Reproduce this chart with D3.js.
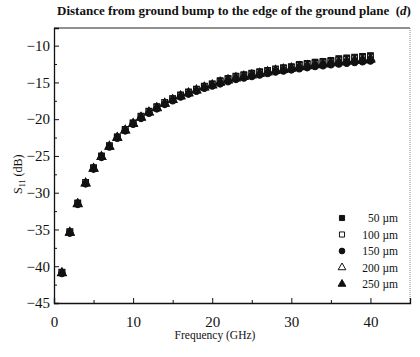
<!DOCTYPE html>
<html>
<head>
<meta charset="utf-8">
<script src="https://cdn.jsdelivr.net/npm/d3@7"></script>
<style>
  body { margin: 0; background: #fff; }
  text { font-family: "Liberation Serif", "DejaVu Serif", serif; fill: #111; }
</style>
</head>
<body>
<script>
const freq = [1,2,3,4,5,6,7,8,9,10,11,12,13,14,15,16,17,18,19,20,
              21,22,23,24,25,26,27,28,29,30,31,32,33,34,35,36,37,38,39,40];

const s50 = [-40.8,-35.3,-31.4,-28.6,-26.6,-25.0,-23.6,-22.4,-21.4,-20.5,
             -19.6,-18.9,-18.3,-17.7,-17.2,-16.7,-16.3,-15.9,-15.5,-15.2,
             -14.75,-14.45,-14.15,-13.95,-13.75,-13.55,-13.35,-13.15,-13.0,-12.85,
             -12.55,-12.4,-12.25,-12.15,-12.0,-11.75,-11.65,-11.55,-11.45,-11.35];
const s100 = [-40.85,-35.35,-31.45,-28.65,-26.65,-25.05,-23.65,-22.45,-21.45,-20.55,
              -19.65,-18.95,-18.35,-17.75,-17.25,-16.75,-16.35,-15.95,-15.55,-15.25,
              -14.85,-14.55,-14.25,-14.05,-13.85,-13.65,-13.45,-13.25,-13.1,-12.95,
              -12.7,-12.55,-12.4,-12.3,-12.15,-11.95,-11.85,-11.75,-11.65,-11.55];
const s150 = [-41.0,-35.5,-31.6,-28.8,-26.8,-25.2,-23.8,-22.6,-21.6,-20.7,
              -19.9,-19.2,-18.6,-18.0,-17.5,-17.0,-16.6,-16.2,-15.8,-15.5,
              -15.2,-14.9,-14.6,-14.4,-14.2,-14.0,-13.8,-13.6,-13.45,-13.3,
              -13.15,-13.0,-12.85,-12.75,-12.6,-12.5,-12.4,-12.3,-12.2,-12.1];
const s200 = [-40.9,-35.4,-31.5,-28.7,-26.7,-25.1,-23.7,-22.5,-21.5,-20.6,
              -19.75,-19.05,-18.45,-17.85,-17.35,-16.85,-16.45,-16.05,-15.65,-15.35,
              -14.95,-14.65,-14.35,-14.15,-13.95,-13.75,-13.55,-13.35,-13.2,-13.05,
              -12.85,-12.7,-12.55,-12.45,-12.3,-12.15,-12.05,-11.95,-11.85,-11.75];
const s250 = [-40.95,-35.45,-31.55,-28.75,-26.75,-25.15,-23.75,-22.55,-21.55,-20.65,
              -19.8,-19.1,-18.5,-17.9,-17.4,-16.9,-16.5,-16.1,-15.7,-15.4,
              -15.05,-14.75,-14.45,-14.25,-14.05,-13.85,-13.65,-13.45,-13.3,-13.15,
              -12.95,-12.8,-12.65,-12.55,-12.4,-12.3,-12.2,-12.1,-12.0,-11.9];

const seriesNames = ["50 \u00b5m", "100 \u00b5m", "150 \u00b5m", "200 \u00b5m", "250 \u00b5m"];
const seriesData = [s50, s100, s150, s200, s250];
const xTicks = [0, 10, 20, 30, 40];
const yTicks = [-10, -15, -20, -25, -30, -35, -40, -45];

const W = 420, H = 357;
const svg = d3.select("body").append("svg")
    .attr("width", W)
    .attr("height", H);

const x = d3.scaleLinear().domain([0, 45]).range([54, 410]);
const y = d3.scaleLinear().domain([-45, -7.6]).range([303, 28]);

// frame: top and right
svg.append("line")
    .attr("x1", x(0)).attr("x2", x(45)).attr("y1", y(-7.6)).attr("y2", y(-7.6))
    .attr("stroke", "#222").attr("stroke-width", 1.2);
svg.append("line")
    .attr("x1", x(45)).attr("x2", x(45)).attr("y1", y(-7.6)).attr("y2", y(-45))
    .attr("stroke", "#888").attr("stroke-width", 1).attr("stroke-dasharray", "1,1");

// bottom axis, ticks pointing inward
const xAxis = svg.append("g")
    .attr("transform", `translate(0,${y(-45)})`)
    .call(d3.axisBottom(x).tickValues(xTicks).tickSize(-5).tickPadding(13));
svg.append("g")
    .attr("transform", `translate(0,${y(-45)})`)
    .call(d3.axisBottom(x).tickValues([5, 15, 25, 35]).tickSize(-3).tickFormat(""))
    .call(g => g.select(".domain").remove());

const yAxis = svg.append("g")
    .attr("transform", `translate(${x(0)},0)`)
    .call(d3.axisLeft(y).tickValues(yTicks).tickSize(-5).tickPadding(4));
svg.append("g")
    .attr("transform", `translate(${x(0)},0)`)
    .call(d3.axisLeft(y).tickValues(d3.range(-42.5, -8, 5)).tickSize(-3).tickFormat(""))
    .call(g => g.select(".domain").remove());

svg.selectAll(".domain").attr("stroke", "#111").attr("stroke-width", 1.3);
svg.selectAll(".tick line").attr("stroke", "#111");
xAxis.selectAll("text").style("font-size", "15px");
yAxis.selectAll("text").style("font-size", "15px");

// title
const title = svg.append("text")
    .attr("x", 234).attr("y", 15)
    .attr("text-anchor", "middle")
    .style("font-size", "13px").style("font-weight", "bold");
title.append("tspan").text("Distance from ground bump to the edge of the ground plane\u00a0\u00a0(");
title.append("tspan").style("font-style", "italic").text("d");
title.append("tspan").text(")");

// axis titles
svg.append("text")
    .attr("x", 215).attr("y", 339)
    .attr("text-anchor", "middle")
    .style("font-size", "11.5px")
    .text("Frequency (GHz)");

const yl = svg.append("text")
    .attr("transform", `translate(22,${y(-27.5)}) rotate(-90)`)
    .attr("text-anchor", "middle")
    .style("font-size", "12px");
yl.append("tspan").text("S");
yl.append("tspan").attr("dy", 3).style("font-size", "8px").text("11");
yl.append("tspan").attr("dy", -3).text(" (dB)");

// markers
const shapes = [
  { type: d3.symbolSquare, fill: "#111" },
  { type: d3.symbolSquare, fill: "#fff" },
  { type: d3.symbolCircle, fill: "#111" },
  { type: d3.symbolTriangle, fill: "#fff" },
  { type: d3.symbolTriangle, fill: "#111" }
];

seriesData.forEach((vals, i) => {
  const sym = d3.symbol().type(shapes[i].type).size(32);
  svg.append("g").selectAll("path")
    .data(vals)
    .join("path")
    .attr("d", sym)
    .attr("transform", (d, j) => `translate(${x(freq[j])},${y(d)})`)
    .attr("fill", shapes[i].fill)
    .attr("stroke", "#111")
    .attr("stroke-width", 1.1);
});

// legend
const leg = svg.append("g");
seriesNames.forEach((name, i) => {
  const ly = 218 + i * 16.5;
  leg.append("path")
    .attr("d", d3.symbol().type(shapes[i].type).size(26)())
    .attr("transform", `translate(342,${ly})`)
    .attr("fill", shapes[i].fill)
    .attr("stroke", "#111")
    .attr("stroke-width", 1);
  leg.append("text")
    .attr("x", 398).attr("y", ly + 4)
    .attr("text-anchor", "end")
    .style("font-size", "11.5px")
    .text(name);
});
</script>
</body>
</html>
